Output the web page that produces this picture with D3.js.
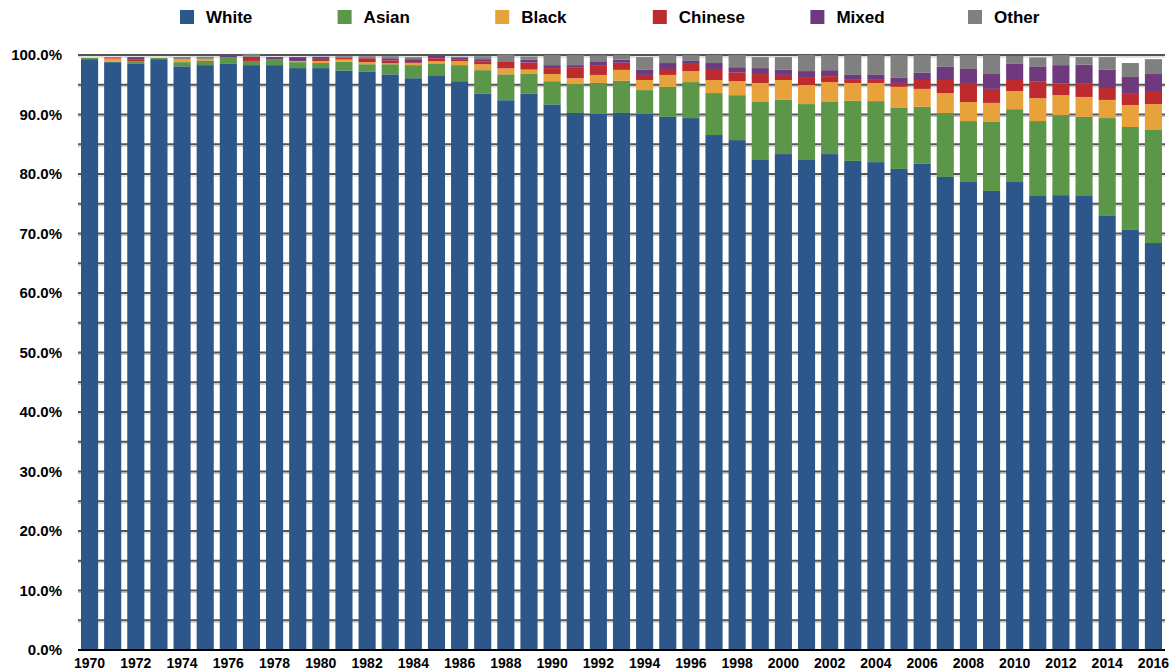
<!DOCTYPE html>
<html>
<head>
<meta charset="utf-8">
<script src="https://cdn.jsdelivr.net/npm/d3@7"></script>
<style>
  body { margin: 0; background: #fff; }
  text { font-family: "Liberation Sans", Arial, sans-serif; font-weight: bold; }
</style>
</head>
<body>
<div id="chart"></div>
<script>
const years = d3.range(1970, 2017).map(String);
const series = ["White", "Asian", "Black", "Chinese", "Mixed", "Other"];

const white = [99.3, 98.8, 98.6, 99.3, 98.1, 98.3, 98.6, 98.3, 98.3, 97.8, 97.8, 97.4, 97.25, 96.75, 96.1, 96.6, 95.6, 93.55, 92.4, 93.55,
  91.7, 90.25, 90.1, 90.25, 90.1, 89.6, 89.4, 86.55, 85.7, 82.35, 83.35, 82.35, 83.35, 82.2, 82.0, 80.85, 81.7, 79.5, 78.65, 77.15,
  78.65, 76.3, 76.45, 76.3, 72.95, 70.6, 68.4];
const asian = [0.2, 0.1, 0.35, 0.2, 0.7, 0.7, 1.0, 0.7, 1.0, 1.0, 0.85, 1.5, 1.2, 1.7, 2.2, 2.0, 2.7, 3.9, 4.35, 3.35,
  3.9, 4.85, 5.2, 5.4, 4.0, 5.05, 6.05, 7.05, 7.55, 9.75, 9.1, 9.4, 8.75, 10.1, 10.25, 10.25, 9.6, 10.75, 10.25, 11.6,
  12.25, 12.6, 13.45, 13.3, 16.45, 17.3, 19.0];
const black = [0, 0.5, 0, 0, 0.5, 0.35, 0, 0, 0, 0.2, 0.35, 0.35, 0.35, 0.15, 0.35, 0.35, 0.65, 1.0, 1.0, 0.65,
  1.2, 1.0, 1.35, 1.85, 1.7, 2.0, 1.85, 2.2, 2.35, 3.2, 3.35, 3.2, 3.35, 3.0, 3.05, 3.55, 3.0, 3.35, 3.2, 3.2,
  3.05, 3.85, 3.35, 3.35, 3.05, 3.7, 4.35];
const chinese = [0, 0.2, 0.35, 0, 0, 0, 0, 0.5, 0, 0, 0.35, 0.35, 0.65, 0.5, 0.15, 0.5, 0.35, 0.5, 1.2, 1.2,
  1.0, 1.85, 1.65, 1.2, 0.85, 1.0, 1.2, 1.85, 1.5, 1.5, 0.85, 1.2, 1.0, 0.65, 0.65, 0.65, 1.5, 2.2, 3.2, 2.35,
  1.85, 2.85, 2.0, 2.2, 2.0, 2.0, 2.2];
const mixed = [0, 0, 0.35, 0, 0, 0, 0.35, 0.2, 0.35, 0.65, 0.35, 0, 0.15, 0.35, 0.5, 0.5, 0.2, 0.35, 0, 0.5,
  0.5, 0.35, 0.65, 0.5, 0.85, 1.0, 0.5, 1.0, 0.85, 1.0, 0.85, 1.15, 1.0, 0.7, 0.7, 0.85, 1.2, 2.2, 2.35, 2.5,
  2.7, 2.5, 3.05, 3.2, 3.05, 2.7, 2.85];
const other = [0, 0, 0, 0, 0.35, 0.35, 0, 0.5, 0, 0, 0, 0.2, 0.2, 0.35, 0.35, 0, 0.2, 0.5, 1.15, 0.5,
  1.7, 1.7, 1.0, 0.8, 2.15, 1.35, 1.0, 1.35, 2.05, 1.85, 2.15, 2.7, 2.55, 3.35, 3.35, 3.85, 3.0, 2.0, 2.35, 3.2,
  1.35, 1.5, 1.7, 1.3, 2.15, 2.35, 2.5];

const yTicks = d3.range(0, 101, 10);
const gridTicks = d3.range(5, 101, 5);

const colors = ["#2d578b", "#5b9649", "#e8a23c", "#be2b2f", "#6f3a7d", "#808080"];

const data = years.map((yr, i) => ({
  year: yr, White: white[i], Asian: asian[i], Black: black[i],
  Chinese: chinese[i], Mixed: mixed[i], Other: other[i]
}));

const W = 1175, H = 671;
const margin = { top: 55, right: 10, bottom: 21, left: 78 };
const width = W - margin.left - margin.right;
const height = H - margin.top - margin.bottom;

const root = d3.select('#chart').append('svg')
  .attr('width', W)
  .attr('height', H);

const svg = root.append('g')
  .attr('transform', `translate(${margin.left},${margin.top})`);

const stacked = d3.stack().keys(series)(data);

// scales
const x = d3.scaleBand()
  .domain(years)
  .range([0, width])
  .paddingInner(0.26)
  .paddingOuter(0.13);

const y = d3.scaleLinear()
  .domain([0, 100])
  .range([height, 0]);

const color = d3.scaleOrdinal().domain(series).range(colors);

// gridlines (dark line with a light shadow under it)
const grid = svg.append('g');
grid.selectAll('line.shade')
  .data(gridTicks)
  .join('line')
  .attr('class', 'shade')
  .attr('x1', 0).attr('x2', width)
  .attr('y1', d => y(d) + 2).attr('y2', d => y(d) + 2)
  .attr('stroke', '#c4c4c4')
  .attr('stroke-width', 1);
grid.selectAll('line.main')
  .data(gridTicks)
  .join('line')
  .attr('class', 'main')
  .attr('x1', 0).attr('x2', width)
  .attr('y1', d => y(d)).attr('y2', d => y(d))
  .attr('stroke', '#555')
  .attr('stroke-width', 2);

// bars
svg.append('g')
  .selectAll('g')
  .data(stacked)
  .join('g')
  .attr('fill', d => color(d.key))
  .selectAll('rect')
  .data(d => d)
  .join('rect')
  .attr('x', d => x(d.data.year))
  .attr('y', d => y(d[1]))
  .attr('width', x.bandwidth())
  .attr('height', d => y(d[0]) - y(d[1]));

// y axis labels
const yAxis = d3.axisLeft(y)
  .tickValues(yTicks)
  .tickSize(0)
  .tickPadding(16)
  .tickFormat(d => d.toFixed(1) + '%');
svg.append('g')
  .call(yAxis)
  .call(g => g.select('.domain').remove())
  .selectAll('text')
  .style('font-size', '15px')
  .attr('fill', '#000');

// x axis
const xAxis = d3.axisBottom(x)
  .tickValues(years.filter(d => +d % 2 === 0))
  .tickSize(0)
  .tickPadding(8);
svg.append('g')
  .attr('transform', `translate(0,${height})`)
  .call(xAxis)
  .call(g => g.select('.domain').remove())
  .selectAll('text')
  .style('font-size', '14px')
  .attr('fill', '#000');

svg.append('line')
  .attr('x1', 0).attr('x2', width)
  .attr('y1', height).attr('y2', height)
  .attr('stroke', '#000')
  .attr('stroke-width', 2);

// legend
const legend = root.append('g')
  .selectAll('g')
  .data(series)
  .join('g')
  .attr('transform', (d, i) => `translate(${180 + i * 157.6},10)`);
legend.append('rect')
  .attr('width', 14)
  .attr('height', 14)
  .attr('fill', d => color(d));
legend.append('text')
  .attr('x', 26)
  .attr('y', 7)
  .attr('dy', '0.35em')
  .style('font-size', '17px')
  .text(d => d);
</script>
</body>
</html>
